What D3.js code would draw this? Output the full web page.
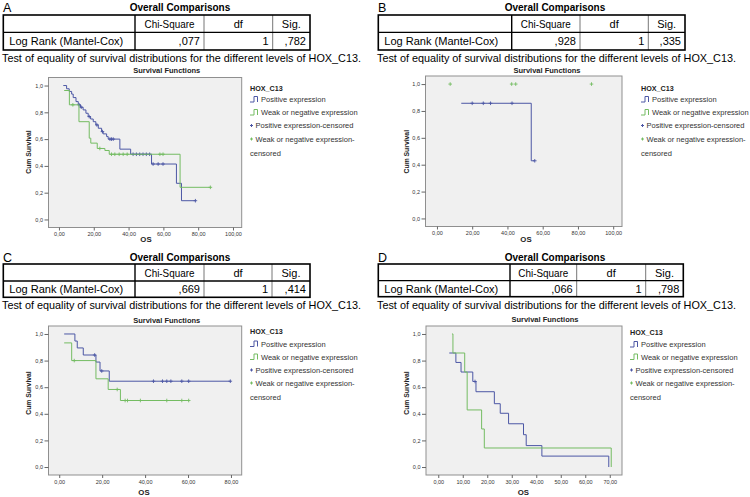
<!DOCTYPE html>
<html>
<head>
<meta charset="utf-8">
<script src="https://cdn.jsdelivr.net/npm/d3@7"></script>
<style>
  body { margin: 0; background: #fff; }
  svg { display: block; }
  text { font-family: "Liberation Sans", Arial, sans-serif; }
</style>
</head>
<body>
<div id="chart"></div>
<script>
// ---- table values ----
const panelIds = ["A", "B", "C", "D"];
const chiSquare = [",077", ",928", ",669", ",066"];
const dfValues = ["1", "1", "1", "1"];
const sigValues = [",782", ",335", ",414", ",798"];
const tableHeader = ["Chi-Square", "df", "Sig."];
const rowLabel = "Log Rank (Mantel-Cox)";
const caption = "Test of equality of survival distributions for the different levels of HOX_C13.";
const legendTitle = "HOX_C13";
const groupNames = ["Positive expression", "Weak or negative expression"];

// ---- axis ticks ----
const yTicks = [0, 0.2, 0.4, 0.6, 0.8, 1.0];
const xTicksAB = [0, 20, 40, 60, 80, 100];
const xTicksC = [0, 20, 40, 60, 80];
const xTicksD = [0, 10, 20, 30, 40, 50, 60, 70];

// ---- survival curves (step times, survival after step, censored times) ----
// A
const aPosTime = [2.5, 4.4, 5.9, 7.3, 8.2, 9.8, 11.1, 12.4, 13.9, 15.5, 16.8, 18.2, 19.7, 21.2, 22.6, 24.5, 25.4, 27.4, 28.3, 35.0, 41.2, 53.2, 67.5, 70.4];
const aPosSurv = [1.0, 0.976, 0.956, 0.936, 0.91, 0.88, 0.856, 0.838, 0.818, 0.793, 0.768, 0.75, 0.73, 0.706, 0.681, 0.656, 0.639, 0.619, 0.6, 0.525, 0.487, 0.414, 0.27, 0.14];
const aPosCens = [11.6, 12.8, 17.4, 21.8, 25.0, 29.3, 30.2, 31.2, 42.6, 44.5, 46.4, 48.3, 50.2, 52.1, 54.1, 57.0, 59.8, 78.4];
const aNegTime = [3.0, 6.0, 11.5, 17.4, 18.3, 22.0, 26.4, 28.9, 69.6];
const aNegSurv = [0.963, 0.856, 0.73, 0.607, 0.57, 0.53, 0.515, 0.487, 0.24];
const aNegCens = [8.0, 23.5, 30.2, 32.1, 34.6, 36.9, 39.2, 58.0, 59.8, 87.0];
// B
const bPosTime = [13.8, 53.5];
const bPosSurv = [0.857, 0.429];
const bPosCens = [20.0, 26.3, 30.4, 42.6, 55.5];
const bNegTime = [];
const bNegSurv = [];
const bNegCens = [7.5, 42.4, 44.7, 87.7];
// C
const cPosTime = [2.3, 7.3, 8.4, 11.2, 17.1, 19.0, 23.3];
const cPosSurv = [1.0, 0.947, 0.895, 0.842, 0.789, 0.722, 0.645];
const cPosCens = [16.5, 19.8, 43.9, 48.1, 50.1, 52.0, 57.1, 60.3, 79.7];
const cNegTime = [2.3, 5.8, 17.1, 22.8, 28.5];
const cNegSurv = [0.933, 0.8, 0.663, 0.583, 0.5];
const cNegCens = [7.0, 27.0, 30.7, 31.8, 37.8, 50.1, 57.1, 60.3];
// D
const dPosTime = [4.5, 7.2, 9.3, 14.1, 15.4, 22.9, 25.3, 28.7, 34.8, 35.9, 42.3, 69.6];
const dPosSurv = [0.857, 0.786, 0.714, 0.643, 0.566, 0.476, 0.404, 0.325, 0.243, 0.161, 0.082, 0];
const dPosCens = [15.0];
const dNegTime = [5.6, 6.0, 10.8, 11.8, 17.7, 18.8, 70.6];
const dNegSurv = [1.0, 0.857, 0.714, 0.429, 0.286, 0.143, 0];
const dNegCens = [];

const curves = [
  [[aPosTime, aPosSurv, aPosCens], [aNegTime, aNegSurv, aNegCens]],
  [[bPosTime, bPosSurv, bPosCens], [bNegTime, bNegSurv, bNegCens]],
  [[cPosTime, cPosSurv, cPosCens], [cNegTime, cNegSurv, cNegCens]],
  [[dPosTime, dPosSurv, dPosCens], [dNegTime, dNegSurv, dNegCens]]
];

// ---- layout of the four panels ----
const rowsTop = [88, 99.5, 112.5, 125.5, 139, 153];
const layouts = [
  {letter: [3, 11.8], titleX: 180, titleY: 10.5,
   table: {x0: 3.3, x1: 310, c: [135, 204, 272.7], y0: 15, y1: 32.3, y2: 50}, hdrY: 28, rowY: 45.2,
   cap: [2, 62], ctitle: [166.7, 73.4], plot: {x0: 48.5, x1: 241.7, y0: 77.5, y1: 227.5},
   xDomain: [-6, 105], xTicks: xTicksAB, ylab: [31.4, 152], os: [146, 242.3], legend: [250, rowsTop]},
  {letter: [378, 11.8], titleX: 555, titleY: 10.5,
   table: {x0: 378.3, x1: 685, c: [511.7, 580, 648.3], y0: 15, y1: 32.3, y2: 50}, hdrY: 28, rowY: 45.2,
   cap: [377, 62], ctitle: [547, 72.7], plot: {x0: 425.5, x1: 622, y0: 76, y1: 226.5},
   xDomain: [-6.5, 105], xTicks: xTicksAB, ylab: [409, 151.7], os: [526, 242.3], legend: [641, rowsTop]},
  {letter: [3, 261.5], titleX: 180, titleY: 260.5,
   table: {x0: 3.3, x1: 310, c: [135, 204, 272], y0: 264, y1: 281, y2: 297.3}, hdrY: 276.5, rowY: 293,
   cap: [2, 308.7], ctitle: [166.7, 322.7], plot: {x0: 48.5, x1: 241.7, y0: 326, y1: 475},
   xDomain: [-5, 85], xTicks: xTicksC, ylab: [30.7, 393], os: [144, 494.8], legend: [250, [331, 344, 357, 370, 383, 397]]},
  {letter: [378, 261.5], titleX: 555, titleY: 260.5,
   table: {x0: 378.3, x1: 683.3, c: [510, 576.7, 645.7], y0: 264, y1: 280.7, y2: 296.7}, hdrY: 276.5, rowY: 293,
   cap: [377, 308.7], ctitle: [545, 322], plot: {x0: 426, x1: 622, y0: 326, y1: 475},
   xDomain: [-5, 75], xTicks: xTicksD, ylab: [409, 393], os: [523.3, 494.8], legend: [630, [332, 344.5, 357, 370, 383, 397]]}
];

const blue = "#4c57a5", green = "#74bc62";
const colors = [blue, green];

const svg = d3.select("#chart").append("svg")
    .attr("width", 750)
    .attr("height", 497);

svg.append("rect").attr("width", 750).attr("height", 497).attr("fill", "#fff");

function txt(x, y, s, o = {}) {
    const t = svg.append("text")
        .attr("x", x).attr("y", y)
        .attr("font-size", o.size || 11)
        .attr("font-weight", o.bold ? "bold" : null)
        .attr("text-anchor", o.anchor || "start")
        .attr("fill", o.fill || "#000")
        .text(s);
    if (o.len) t.attr("textLength", o.len).attr("lengthAdjust", "spacingAndGlyphs");
    return t;
}

function line(x1, y1, x2, y2, stroke, w) {
    svg.append("line").attr("x1", x1).attr("y1", y1).attr("x2", x2).attr("y2", y2)
        .attr("stroke", stroke).attr("stroke-width", w);
}

function drawTable(i, L) {
    const t = L.table;
    txt(L.letter[0], L.letter[1], panelIds[i], {size: 12.5});
    txt(L.titleX, L.titleY, "Overall Comparisons", {size: 10, bold: true, anchor: "middle"});

    // inner lines first, frame on top
    line(t.c[1], t.y0, t.c[1], t.y2, "#777", 1);
    line(t.c[2], t.y0, t.c[2], t.y2, "#777", 1);
    line(t.x0, t.y1, t.x1, t.y1, "#000", 1.3);
    line(t.c[0], t.y0, t.c[0], t.y2, "#000", 1.4);
    svg.append("rect")
        .attr("x", t.x0).attr("y", t.y0)
        .attr("width", t.x1 - t.x0).attr("height", t.y2 - t.y0)
        .attr("fill", "none").attr("stroke", "#000").attr("stroke-width", 1.6);

    const edges = [t.c[0], t.c[1], t.c[2], t.x1];
    tableHeader.forEach((h, k) => {
        txt((edges[k] + edges[k + 1]) / 2, L.hdrY, h, {size: 11, anchor: "middle", len: k === 0 ? 50 : null});
    });
    txt(t.x0 + 6, L.rowY, rowLabel, {size: 11, len: 114});
    [chiSquare[i], dfValues[i], sigValues[i]].forEach((v, k) => {
        txt(edges[k + 1] - 4, L.rowY, v, {size: 11, anchor: "end"});
    });
    txt(L.cap[0], L.cap[1], caption, {size: 10.5, len: 359});
}

function stepPoints(times, surv, cens) {
    if (!times.length) return [];
    const pts = times.map((t, k) => [t, surv[k]]);
    const end = d3.max(cens.concat(times));
    if (end > times[times.length - 1]) pts.push([end, surv[surv.length - 1]]);
    return pts;
}

function survAt(times, surv, t) {
    let s = 1;
    times.forEach((tt, k) => { if (tt <= t) s = surv[k]; });
    return s;
}

function drawChart(i, L) {
    const p = L.plot;
    const x = d3.scaleLinear().domain(L.xDomain).range([p.x0, p.x1]);
    const y = d3.scaleLinear().domain([-0.06, 1.06]).range([p.y1, p.y0]);

    svg.append("rect")
        .attr("x", p.x0).attr("y", p.y0)
        .attr("width", p.x1 - p.x0).attr("height", p.y1 - p.y0)
        .attr("fill", "#f0f0f0").attr("stroke", "#8f8f8f").attr("stroke-width", 1);

    const gx = svg.append("g")
        .attr("transform", `translate(0,${p.y1})`)
        .call(d3.axisBottom(x).tickValues(L.xTicks).tickSize(3).tickPadding(2)
            .tickFormat(d => d.toFixed(2).replace(".", ",")));
    gx.select(".domain").remove();
    gx.selectAll("line").attr("stroke", "#666");
    gx.selectAll("text").attr("font-size", 5.5).attr("fill", "#333")
        .attr("font-family", "'Liberation Sans', Arial, sans-serif");

    const gy = svg.append("g")
        .attr("transform", `translate(${p.x0},0)`)
        .call(d3.axisLeft(y).tickValues(yTicks).tickSize(4).tickPadding(1.5)
            .tickFormat(d => d.toFixed(1).replace(".", ",")));
    gy.select(".domain").remove();
    gy.selectAll("line").attr("stroke", "#666");
    gy.selectAll("text").attr("font-size", 5.5).attr("fill", "#333")
        .attr("font-family", "'Liberation Sans', Arial, sans-serif");

    txt(L.ctitle[0], L.ctitle[1], "Survival Functions", {size: 7.5, bold: true, anchor: "middle", fill: "#222"});
    txt(L.os[0], L.os[1], "OS", {size: 7.8, bold: true, anchor: "middle", fill: "#222"});
    svg.append("text")
        .attr("transform", `translate(${L.ylab[0]},${L.ylab[1]}) rotate(-90)`)
        .attr("font-size", 6.8).attr("font-weight", "bold").attr("fill", "#222")
        .attr("text-anchor", "middle")
        .text("Cum Survival");

    const stepLine = d3.line()
        .x(d => x(d[0]))
        .y(d => y(d[1]))
        .curve(d3.curveStepAfter);

    curves[i].forEach(([times, surv, cens], g) => {
        const pts = stepPoints(times, surv, cens);
        if (pts.length) {
            svg.append("path")
                .attr("d", stepLine(pts))
                .attr("fill", "none")
                .attr("stroke", colors[g])
                .attr("stroke-width", 1);
        }
        svg.append("g").selectAll("path")
            .data(cens)
            .join("path")
            .attr("transform", d => `translate(${x(d)},${y(survAt(times, surv, d))})`)
            .attr("d", "M-1.8,0H1.8M0,-1.8V1.8")
            .attr("stroke", colors[g])
            .attr("stroke-width", 0.9);
    });
}

function drawLegend(L) {
    const lx = L.legend[0], rows = L.legend[1];
    txt(lx, rows[0] + 2.6, legendTitle, {size: 7.2, bold: true, fill: "#222"});
    colors.forEach((c, k) => {
        const yy = rows[k + 1];
        svg.append("path")
            .attr("d", `M${lx},${yy + 2.5}H${lx + 4}V${yy - 3}H${lx + 7.5}V${yy + 2.5}`)
            .attr("fill", "none").attr("stroke", c).attr("stroke-width", 1);
        txt(lx + 11, yy + 2.6, groupNames[k], {size: 7.5, fill: "#333"});
    });
    colors.forEach((c, k) => {
        const yy = rows[k + 3];
        svg.append("path")
            .attr("transform", `translate(${lx + 1.5},${yy})`)
            .attr("d", "M-1.5,0H1.5M0,-1.5V1.5")
            .attr("stroke", c).attr("stroke-width", 1);
        txt(lx + 5.5, yy + 2.6, groupNames[k] + (k === 0 ? "-censored" : "-"), {size: 7.5, fill: "#333"});
    });
    txt(lx, rows[5] + 2.6, "censored", {size: 7.5, fill: "#333"});
}

layouts.forEach((L, i) => {
    drawTable(i, L);
    drawChart(i, L);
    drawLegend(L);
});
</script>
</body>
</html>
